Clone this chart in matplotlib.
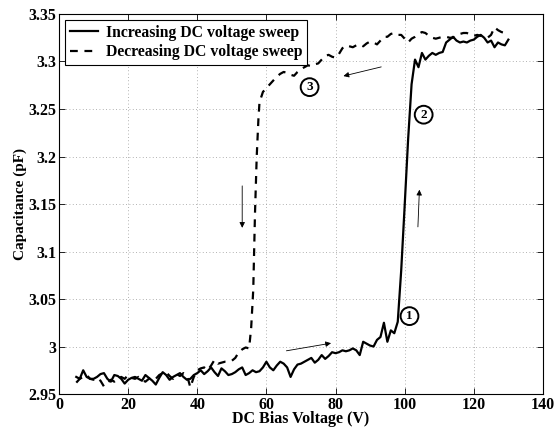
import numpy as np
import matplotlib
matplotlib.use('Agg')
import matplotlib.pyplot as plt

plt.rcParams['font.family'] = ['Liberation Serif', 'DejaVu Serif']
plt.rcParams['font.weight'] = 'bold'

# increasing sweep (solid)
v_up = list(range(5, 131))
c_up = [2.968, 2.966, 2.975, 2.968, 2.966, 2.966, 2.968, 2.971, 2.972, 2.966,
        2.963, 2.970, 2.969, 2.966, 2.961, 2.965, 2.967, 2.968, 2.966, 2.964,
        2.970, 2.967, 2.964, 2.960, 2.967, 2.973, 2.970, 2.965, 2.968, 2.970,
        2.972, 2.968, 2.965, 2.966, 2.970, 2.972, 2.975, 2.971, 2.974, 2.978,
        2.973, 2.969, 2.977, 2.974, 2.970, 2.971, 2.973, 2.976, 2.978, 2.970,
        2.972, 2.975, 2.973, 2.974, 2.978, 2.984, 2.978, 2.975, 2.980, 2.984,
        2.982, 2.978, 2.968, 2.976, 2.981, 2.982, 2.984, 2.986, 2.988, 2.983,
        2.986, 2.991, 2.987, 2.990, 2.994, 2.993, 2.994, 2.996, 2.995, 2.996,
        2.998, 2.996, 2.991, 3.005, 3.003, 3.001, 3.000, 3.007, 3.010, 3.025,
        3.005, 3.017, 3.014, 3.026, 3.080, 3.148, 3.218, 3.276, 3.302, 3.294,
        3.309, 3.302, 3.306, 3.309, 3.307, 3.309, 3.310, 3.320, 3.323, 3.326,
        3.322, 3.320, 3.321, 3.320, 3.322, 3.323, 3.326, 3.328, 3.325, 3.320,
        3.322, 3.315, 3.320, 3.318, 3.317, 3.323]

# decreasing sweep (dashed)
v_down = list(range(5, 56)) + [55.6, 56.2, 56.7, 57.2, 57.7] + list(range(58, 131))
c_down = [2.962, 2.966, 2.968, 2.970, 2.966, 2.965, 2.967, 2.964, 2.958, 2.962,
          2.965, 2.963, 2.966, 2.968, 2.966, 2.970, 2.967, 2.966, 2.968, 2.965,
          2.963, 2.966, 2.968, 2.966, 2.970, 2.972, 2.973, 2.969, 2.966, 2.971,
          2.969, 2.972, 2.970, 2.957, 2.968, 2.975, 2.977, 2.978, 2.975, 2.980,
          2.986, 2.982, 2.983, 2.984, 2.984, 2.985, 2.988, 2.994, 2.997, 2.999,
          2.998,
          3.020, 3.060, 3.140, 3.200, 3.240,
          3.257, 3.268, 3.272, 3.276, 3.280, 3.284, 3.287, 3.289, 3.288, 3.286,
          3.285, 3.289, 3.292, 3.294, 3.296, 3.295, 3.297, 3.298, 3.302, 3.306,
          3.307, 3.305, 3.304, 3.308, 3.314, 3.317, 3.316, 3.315, 3.317, 3.318,
          3.316, 3.319, 3.321, 3.320, 3.318, 3.322, 3.326, 3.326, 3.329, 3.330,
          3.328, 3.328, 3.324, 3.320, 3.324, 3.326, 3.329, 3.331, 3.330, 3.327,
          3.325, 3.324, 3.325, 3.326, 3.326, 3.325, 3.325, 3.327, 3.329, 3.330,
          3.330, 3.328, 3.327, 3.328, 3.327, 3.326, 3.325, 3.328, 3.336, 3.333,
          3.331, 3.330, 3.331]

fig = plt.figure(figsize=(5.54, 4.33), dpi=100)
ax = fig.add_axes([0.1065, 0.090, 0.8735, 0.8777])

ax.plot(v_up, c_up, color='black', lw=1.6, label='Increasing DC voltage sweep')
ax.plot(v_down, c_down, color='black', lw=1.6, dashes=(3.5, 3),
        label='Decreasing DC voltage sweep')

ax.set_xlim(0, 140)
ax.set_ylim(2.95, 3.35)
ax.set_xticks(range(0, 141, 20))
yt = [2.95, 3.0, 3.05, 3.1, 3.15, 3.2, 3.25, 3.3, 3.35]
ax.set_yticks(yt)
ax.set_yticklabels(['2.95', '3', '3.05', '3.1', '3.15', '3.2', '3.25', '3.3', '3.35'])
ax.tick_params(direction='in', top=True, right=True, labelsize=11.5, length=4,
               width=0.6, pad=2)
for lab in ax.get_xticklabels() + ax.get_yticklabels():
    lab.set_fontweight('bold')
ax.grid(True, linestyle=(0, (1, 3)), color='#999999', lw=0.6)
for s in ax.spines.values():
    s.set_linewidth(0.8)

ax.set_xlabel('DC Bias Voltage (V)', fontsize=11.5, fontweight='bold', labelpad=-1)
ax.set_ylabel('Capacitance (pF)', fontsize=11, fontweight='bold', labelpad=1)

leg = ax.legend(loc='upper left', fontsize=11.3, handlelength=1.8, handletextpad=0.5,
                borderpad=0.3, labelspacing=0.2, borderaxespad=0.4, fancybox=False,
                framealpha=1, edgecolor='black')
leg.get_frame().set_linewidth(0.8)
for t in leg.get_texts():
    t.set_fontweight('bold')

arr = dict(arrowstyle='-|>', color='black', lw=0.6, mutation_scale=8)
ax.annotate('', xy=(81.5, 3.284), xytext=(94, 3.295), arrowprops=arr)
ax.annotate('', xy=(53, 3.122), xytext=(53, 3.172), arrowprops=arr)
ax.annotate('', xy=(104.3, 3.168), xytext=(103.8, 3.123), arrowprops=arr)
ax.annotate('', xy=(79.5, 3.004), xytext=(65, 2.995), arrowprops=arr)

circ = dict(boxstyle='circle,pad=0.22', fc='white', ec='black', lw=1.4)
for txt, x, y in [('1', 101.4, 3.032), ('2', 105.5, 3.244), ('3', 72.5, 3.273)]:
    ax.text(x, y, txt, fontsize=9.5, fontweight='bold', ha='center', va='center', bbox=circ)

fig.savefig('out.png', dpi=100)
